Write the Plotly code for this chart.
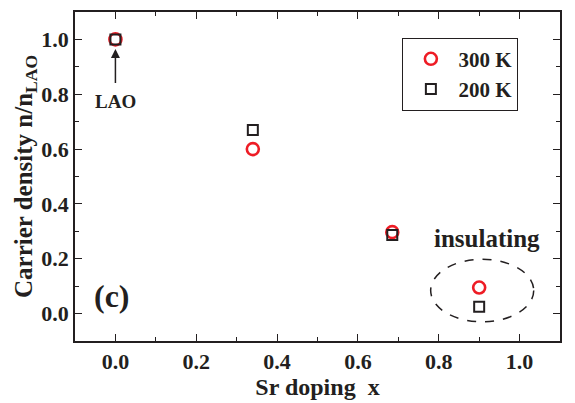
import plotly.graph_objects as go

x_doping = [0.0, 0.34, 0.685, 0.90]
n_300K = [1.0, 0.60, 0.297, 0.095]
n_200K = [1.0, 0.67, 0.287, 0.025]

FONT = "Liberation Serif"
INK = "#231f20"
fig = go.Figure()
fig.add_trace(go.Scatter(x=x_doping, y=n_300K, mode="markers", name="<b>300 K</b>",
                         marker=dict(symbol="circle-open", size=12, color="#ee1c25",
                                     line=dict(width=2.6, color="#ee1c25"))))
fig.add_trace(go.Scatter(x=x_doping, y=n_200K, mode="markers", name="<b>200 K</b>",
                         marker=dict(symbol="square-open", size=10, color=INK,
                                     line=dict(width=2, color=INK))))

axis_common = dict(showline=True, linecolor=INK, linewidth=1.5, mirror="allticks",
                   ticks="inside", ticklen=7, tickwidth=1.2, tickcolor=INK,
                   showgrid=False, zeroline=False,
                   tickfont=dict(family=FONT, size=22, color=INK),
                   tickprefix="<b>", ticksuffix="</b>",
                   minor=dict(ticks="inside", ticklen=4, tickwidth=1.2, tickcolor=INK, dtick=0.1))

fig.update_xaxes(range=[-0.1, 1.1], dtick=0.2, tick0=0, tickformat=".1f",
                 title=dict(text="<b>Sr doping  x</b>", font=dict(family=FONT, size=24, color=INK), standoff=2),
                 **axis_common)
fig.update_yaxes(range=[-0.1, 1.1], dtick=0.2, tick0=0, tickformat=".1f",
                 title=dict(text="<b>Carrier density n/n<sub>LAO</sub></b>", font=dict(family=FONT, size=25, color=INK), standoff=2),
                 **axis_common)

# dashed ellipse around insulating points
fig.add_shape(type="circle", xref="x", yref="y", x0=0.78, x1=1.035, y0=-0.03, y1=0.198,
              line=dict(color=INK, width=1.5, dash="dash"))

# LAO label with arrow to LAO point
fig.add_annotation(x=0.0, y=0.965, ax=0.0, ay=0.775, xref="x", yref="y", axref="x", ayref="y",
                   text="<b>LAO</b>", showarrow=True, arrowhead=2, arrowsize=1.2, arrowwidth=1.5,
                   arrowcolor=INK, borderpad=7,
                   font=dict(family=FONT, size=19, color=INK))
fig.add_annotation(x=-0.057, y=0.065, xref="x", yref="y", text="<b>(c)</b>", showarrow=False,
                   xanchor="left", font=dict(family=FONT, size=32, color=INK))
fig.add_annotation(x=0.92, y=0.275, xref="x", yref="y", text="<b>insulating</b>", showarrow=False,
                   font=dict(family=FONT, size=25, color=INK))

fig.update_layout(
    width=575, height=403,
    margin=dict(l=75, r=15, t=10, b=59),
    plot_bgcolor="white", paper_bgcolor="white",
    font=dict(family=FONT, color=INK),
    legend=dict(x=0.675, y=0.922, xanchor="left", yanchor="top",
                bordercolor=INK, borderwidth=1, bgcolor="white",
                font=dict(family=FONT, size=21, color=INK),
                itemwidth=45, tracegroupgap=0),
)

fig.write_html("out.html")
